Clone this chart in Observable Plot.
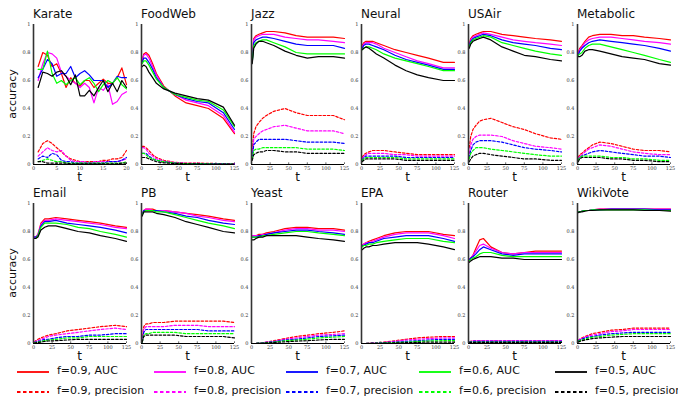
<!DOCTYPE html>
<html><head><meta charset="utf-8">
<script src="https://cdn.jsdelivr.net/npm/d3@7"></script>
<script src="https://cdn.jsdelivr.net/npm/@observablehq/plot@0.6"></script>
<style>
body{margin:0;background:#fff;}
#root{position:relative;width:678px;height:402px;overflow:hidden;font-family:"DejaVu Sans",sans-serif;color:#111;}
.abs{position:absolute;white-space:nowrap;}
.title{font-size:12px;line-height:12px;}
.tlab{font-size:12px;line-height:12px;transform:translateX(-50%);}
.ylab{font-size:11px;line-height:11px;transform:translate(-50%,-50%) rotate(-90deg);}
.leg{font-size:11px;line-height:12px;}
</style></head><body><div id="root"></div>
<script>
const seriesNames = ["f=0.9","f=0.8","f=0.7","f=0.6","f=0.5"];
const seriesColors = ["#ff0000","#ff00ff","#0000ff","#00ff00","#000000"];
const panelNames = ["Karate","FoodWeb","Jazz","Neural","USAir","Metabolic","Email","PB","Yeast","EPA","Router","WikiVote"];
const tKarate = [1,2,3,4,5,6,7,8,9,10,11,12,13,14,15,16,17,18,19,20];
const tGrid = [1,3,6,10,15,20,30,45,60,75,90,110,125];
const ticksKarate = [0,5,10,15,20];
const ticksGrid = [0,25,50,75,100,125];
const yTicks = [0,0.2,0.4,0.6,0.8,1];

const karateAUC = [
 [0.70,0.80,0.78,0.70,0.72,0.65,0.55,0.62,0.58,0.56,0.60,0.60,0.55,0.58,0.61,0.58,0.58,0.62,0.69,0.57],
 [0.60,0.72,0.80,0.79,0.76,0.66,0.63,0.60,0.58,0.55,0.58,0.55,0.44,0.55,0.53,0.57,0.43,0.45,0.50,0.52],
 [0.62,0.68,0.75,0.72,0.63,0.65,0.65,0.70,0.62,0.65,0.67,0.64,0.60,0.60,0.60,0.55,0.58,0.63,0.62,0.62],
 [0.68,0.68,0.81,0.65,0.58,0.60,0.57,0.60,0.62,0.57,0.60,0.62,0.58,0.52,0.57,0.60,0.58,0.62,0.57,0.54],
 [0.55,0.66,0.65,0.63,0.66,0.67,0.63,0.57,0.64,0.49,0.49,0.53,0.49,0.55,0.60,0.52,0.58,0.52,0.60,0.55]];
const karatePrec = [
 [0.09,0.15,0.17,0.15,0.12,0.09,0.06,0.04,0.03,0.02,0.02,0.02,0.02,0.02,0.03,0.03,0.04,0.04,0.05,0.10],
 [0.06,0.09,0.12,0.10,0.09,0.10,0.06,0.03,0.02,0.02,0.02,0.01,0.02,0.02,0.02,0.02,0.02,0.02,0.03,0.04],
 [0.04,0.06,0.05,0.08,0.07,0.03,0.02,0.02,0.01,0.01,0.01,0.01,0.01,0.01,0.01,0.02,0.02,0.02,0.03,0.05],
 [0.02,0.03,0.04,0.03,0.02,0.02,0.01,0.01,0.01,0.01,0.01,0.01,0.01,0.01,0.01,0.01,0.01,0.01,0.01,0.02],
 [0.02,0.02,0.01,0.01,0.01,0.01,0.01,0.005,0.005,0.005,0.005,0.005,0.005,0.005,0.005,0.005,0.005,0.005,0.01,0.01]];

const foodwebAUC = [
 [0.74,0.79,0.80,0.78,0.72,0.65,0.56,0.49,0.44,0.42,0.40,0.33,0.22],
 [0.75,0.78,0.79,0.76,0.70,0.64,0.55,0.50,0.46,0.44,0.42,0.35,0.23],
 [0.73,0.76,0.76,0.73,0.68,0.62,0.55,0.50,0.47,0.45,0.44,0.37,0.25],
 [0.72,0.74,0.74,0.71,0.66,0.61,0.55,0.50,0.48,0.46,0.45,0.39,0.27],
 [0.70,0.71,0.70,0.66,0.62,0.58,0.54,0.51,0.49,0.47,0.46,0.41,0.28]];
const foodwebPrec = [
 [0.13,0.13,0.12,0.10,0.07,0.05,0.03,0.015,0.01,0.01,0.008,0.006,0.005],
 [0.12,0.12,0.11,0.08,0.06,0.04,0.025,0.012,0.008,0.008,0.006,0.005,0.004],
 [0.08,0.08,0.08,0.06,0.04,0.03,0.02,0.01,0.007,0.006,0.005,0.004,0.003],
 [0.08,0.08,0.07,0.05,0.04,0.03,0.02,0.01,0.006,0.005,0.004,0.003,0.003],
 [0.05,0.05,0.05,0.04,0.03,0.02,0.012,0.007,0.005,0.004,0.003,0.003,0.002]];

const jazzAUC = [
 [0.74,0.90,0.92,0.93,0.94,0.95,0.95,0.94,0.92,0.91,0.91,0.91,0.90],
 [0.74,0.89,0.91,0.92,0.93,0.93,0.93,0.91,0.90,0.89,0.89,0.88,0.87],
 [0.73,0.87,0.89,0.90,0.91,0.91,0.90,0.88,0.86,0.85,0.85,0.85,0.83],
 [0.73,0.85,0.87,0.88,0.89,0.89,0.87,0.84,0.80,0.79,0.79,0.79,0.79],
 [0.72,0.83,0.86,0.88,0.88,0.87,0.85,0.81,0.78,0.76,0.77,0.77,0.76]];
const jazzPrec = [
 [0.10,0.22,0.27,0.30,0.33,0.35,0.38,0.40,0.37,0.35,0.35,0.35,0.32],
 [0.07,0.18,0.20,0.22,0.24,0.25,0.27,0.28,0.26,0.24,0.24,0.24,0.22],
 [0.05,0.14,0.16,0.18,0.18,0.18,0.18,0.18,0.17,0.16,0.16,0.16,0.15],
 [0.04,0.10,0.11,0.11,0.12,0.12,0.12,0.12,0.12,0.11,0.11,0.11,0.10],
 [0.03,0.07,0.08,0.09,0.09,0.10,0.10,0.09,0.09,0.08,0.08,0.08,0.08]];

const neuralAUC = [
 [0.85,0.87,0.88,0.88,0.88,0.87,0.85,0.82,0.80,0.78,0.76,0.73,0.73],
 [0.84,0.86,0.87,0.87,0.87,0.86,0.83,0.80,0.77,0.74,0.72,0.69,0.69],
 [0.83,0.85,0.86,0.86,0.85,0.84,0.82,0.78,0.75,0.73,0.71,0.68,0.68],
 [0.82,0.83,0.84,0.84,0.83,0.82,0.79,0.76,0.74,0.72,0.70,0.67,0.67],
 [0.82,0.83,0.84,0.83,0.81,0.79,0.76,0.71,0.67,0.64,0.62,0.60,0.60]];
const neuralPrec = [
 [0.05,0.07,0.08,0.09,0.10,0.10,0.10,0.09,0.08,0.07,0.07,0.07,0.07],
 [0.04,0.06,0.07,0.08,0.08,0.08,0.08,0.07,0.07,0.06,0.06,0.06,0.06],
 [0.03,0.05,0.06,0.06,0.06,0.06,0.06,0.06,0.05,0.05,0.05,0.05,0.05],
 [0.03,0.04,0.05,0.05,0.05,0.05,0.05,0.05,0.04,0.04,0.04,0.04,0.04],
 [0.02,0.03,0.04,0.04,0.04,0.04,0.04,0.04,0.03,0.03,0.03,0.03,0.03]];

const usairAUC = [
 [0.86,0.90,0.92,0.93,0.94,0.95,0.95,0.93,0.92,0.91,0.90,0.89,0.88],
 [0.85,0.89,0.91,0.92,0.93,0.94,0.93,0.91,0.89,0.88,0.87,0.86,0.85],
 [0.85,0.88,0.90,0.91,0.92,0.93,0.92,0.89,0.87,0.86,0.85,0.83,0.82],
 [0.84,0.87,0.89,0.90,0.91,0.92,0.91,0.87,0.85,0.83,0.81,0.79,0.78],
 [0.83,0.86,0.88,0.89,0.90,0.91,0.89,0.84,0.81,0.78,0.77,0.75,0.74]];
const usairPrec = [
 [0.12,0.20,0.25,0.28,0.31,0.32,0.33,0.30,0.27,0.25,0.22,0.19,0.18],
 [0.08,0.14,0.18,0.20,0.21,0.21,0.21,0.20,0.17,0.15,0.13,0.12,0.11],
 [0.05,0.10,0.14,0.16,0.17,0.17,0.17,0.16,0.14,0.12,0.11,0.10,0.09],
 [0.04,0.08,0.10,0.12,0.12,0.12,0.11,0.10,0.09,0.08,0.07,0.06,0.06],
 [0.02,0.04,0.06,0.07,0.08,0.08,0.07,0.06,0.05,0.04,0.04,0.03,0.03]];

const metabolicAUC = [
 [0.80,0.83,0.85,0.88,0.91,0.92,0.93,0.93,0.92,0.92,0.91,0.90,0.89],
 [0.79,0.82,0.84,0.87,0.89,0.90,0.91,0.91,0.90,0.89,0.88,0.87,0.86],
 [0.78,0.81,0.83,0.85,0.87,0.88,0.89,0.88,0.87,0.86,0.85,0.83,0.81],
 [0.78,0.79,0.80,0.83,0.85,0.86,0.86,0.84,0.82,0.80,0.78,0.75,0.73],
 [0.77,0.77,0.78,0.81,0.82,0.82,0.81,0.79,0.77,0.76,0.75,0.72,0.71]];
const metabolicPrec = [
 [0.05,0.07,0.08,0.10,0.12,0.14,0.16,0.15,0.13,0.11,0.10,0.10,0.09],
 [0.04,0.06,0.07,0.09,0.11,0.12,0.14,0.13,0.11,0.09,0.08,0.07,0.07],
 [0.03,0.05,0.06,0.07,0.08,0.09,0.10,0.09,0.08,0.07,0.06,0.06,0.05],
 [0.03,0.05,0.06,0.06,0.06,0.06,0.06,0.05,0.05,0.04,0.04,0.03,0.03],
 [0.02,0.04,0.05,0.05,0.05,0.05,0.05,0.04,0.04,0.03,0.03,0.02,0.02]];

const emailAUC = [
 [0.76,0.76,0.78,0.86,0.89,0.89,0.90,0.89,0.88,0.87,0.86,0.84,0.83],
 [0.76,0.76,0.78,0.85,0.88,0.88,0.89,0.88,0.87,0.86,0.85,0.83,0.82],
 [0.76,0.76,0.77,0.84,0.87,0.87,0.88,0.86,0.85,0.84,0.83,0.81,0.79],
 [0.75,0.75,0.77,0.83,0.86,0.86,0.86,0.85,0.83,0.82,0.80,0.78,0.76],
 [0.75,0.75,0.76,0.81,0.83,0.84,0.84,0.82,0.80,0.79,0.77,0.75,0.73]];
const emailPrec = [
 [0.01,0.02,0.03,0.04,0.05,0.06,0.07,0.09,0.10,0.11,0.12,0.13,0.12],
 [0.01,0.015,0.02,0.03,0.04,0.05,0.06,0.07,0.08,0.09,0.10,0.11,0.10],
 [0.005,0.01,0.015,0.02,0.03,0.03,0.04,0.05,0.05,0.06,0.06,0.07,0.07],
 [0.003,0.008,0.01,0.015,0.02,0.025,0.03,0.04,0.04,0.05,0.05,0.05,0.05],
 [0.002,0.005,0.008,0.01,0.015,0.018,0.02,0.025,0.03,0.03,0.03,0.03,0.03]];

const pbAUC = [
 [0.92,0.95,0.96,0.96,0.96,0.95,0.95,0.94,0.93,0.92,0.91,0.89,0.88],
 [0.92,0.95,0.96,0.96,0.95,0.95,0.95,0.94,0.93,0.91,0.90,0.88,0.87],
 [0.92,0.95,0.95,0.95,0.95,0.95,0.94,0.93,0.91,0.90,0.88,0.86,0.85],
 [0.92,0.94,0.95,0.95,0.95,0.94,0.94,0.92,0.90,0.88,0.86,0.84,0.82],
 [0.91,0.94,0.94,0.94,0.94,0.93,0.92,0.90,0.87,0.85,0.83,0.80,0.79]];
const pbPrec = [
 [0.02,0.12,0.14,0.14,0.15,0.15,0.15,0.16,0.16,0.16,0.16,0.16,0.15],
 [0.02,0.10,0.12,0.12,0.12,0.12,0.12,0.13,0.13,0.13,0.12,0.12,0.12],
 [0.01,0.08,0.10,0.10,0.10,0.10,0.10,0.10,0.10,0.10,0.09,0.09,0.09],
 [0.01,0.06,0.07,0.07,0.08,0.08,0.08,0.08,0.07,0.07,0.07,0.07,0.07],
 [0.01,0.05,0.06,0.06,0.06,0.06,0.06,0.06,0.05,0.05,0.05,0.05,0.04]];

const yeastAUC = [
 [0.77,0.77,0.77,0.78,0.78,0.79,0.80,0.82,0.83,0.83,0.82,0.82,0.81],
 [0.77,0.77,0.77,0.77,0.78,0.78,0.79,0.81,0.82,0.82,0.81,0.81,0.80],
 [0.76,0.76,0.76,0.77,0.77,0.78,0.79,0.80,0.81,0.81,0.80,0.79,0.78],
 [0.76,0.76,0.76,0.76,0.77,0.77,0.78,0.79,0.80,0.80,0.79,0.78,0.77],
 [0.74,0.74,0.75,0.76,0.76,0.77,0.77,0.77,0.77,0.76,0.75,0.74,0.73]];
const yeastPrec = [
 [0,0,0,0.003,0.006,0.01,0.02,0.035,0.05,0.06,0.07,0.08,0.09],
 [0,0,0,0.003,0.005,0.01,0.015,0.03,0.04,0.05,0.06,0.065,0.07],
 [0,0,0,0.002,0.004,0.008,0.012,0.025,0.03,0.04,0.05,0.055,0.06],
 [0,0,0,0.002,0.003,0.006,0.01,0.02,0.025,0.03,0.04,0.045,0.05],
 [0,0,0,0.001,0.002,0.004,0.007,0.012,0.017,0.02,0.025,0.03,0.03]];

const epaAUC = [
 [0.70,0.71,0.72,0.73,0.74,0.75,0.77,0.79,0.80,0.80,0.80,0.78,0.77],
 [0.70,0.71,0.72,0.72,0.73,0.74,0.76,0.78,0.79,0.79,0.79,0.77,0.75],
 [0.70,0.70,0.71,0.72,0.72,0.73,0.75,0.76,0.77,0.77,0.77,0.75,0.73],
 [0.69,0.70,0.70,0.71,0.71,0.72,0.73,0.74,0.75,0.75,0.75,0.73,0.72],
 [0.67,0.68,0.69,0.69,0.70,0.70,0.71,0.72,0.72,0.72,0.71,0.69,0.67]];
const epaPrec = [
 [0,0,0,0.002,0.004,0.005,0.01,0.02,0.03,0.04,0.045,0.05,0.05],
 [0,0,0,0.001,0.003,0.004,0.008,0.015,0.025,0.03,0.035,0.04,0.04],
 [0,0,0,0.001,0.002,0.003,0.006,0.01,0.015,0.02,0.025,0.03,0.03],
 [0,0,0,0.001,0.001,0.002,0.004,0.007,0.01,0.015,0.018,0.02,0.02],
 [0,0,0,0,0.001,0.001,0.002,0.004,0.006,0.008,0.01,0.01,0.01]];

const routerAUC = [
 [0.60,0.61,0.63,0.68,0.74,0.75,0.69,0.65,0.64,0.65,0.66,0.66,0.66],
 [0.60,0.61,0.63,0.66,0.70,0.71,0.68,0.65,0.64,0.65,0.65,0.65,0.65],
 [0.60,0.61,0.62,0.64,0.67,0.69,0.67,0.64,0.63,0.64,0.64,0.64,0.64],
 [0.59,0.60,0.61,0.62,0.64,0.65,0.65,0.63,0.62,0.62,0.62,0.62,0.62],
 [0.58,0.59,0.60,0.61,0.62,0.62,0.62,0.61,0.61,0.60,0.60,0.60,0.60]];
const routerPrec = [
 [0.01,0.015,0.02,0.02,0.02,0.02,0.02,0.02,0.02,0.02,0.02,0.02,0.02],
 [0.01,0.015,0.02,0.02,0.02,0.02,0.02,0.02,0.02,0.02,0.02,0.02,0.02],
 [0.01,0.012,0.015,0.015,0.015,0.015,0.015,0.015,0.015,0.015,0.015,0.015,0.015],
 [0.008,0.01,0.01,0.01,0.01,0.01,0.01,0.01,0.01,0.01,0.01,0.01,0.01],
 [0.005,0.008,0.008,0.008,0.008,0.008,0.008,0.008,0.008,0.008,0.008,0.008,0.008]];

const wikivoteAUC = [
 [0.94,0.94,0.945,0.95,0.95,0.955,0.96,0.96,0.96,0.96,0.96,0.96,0.96],
 [0.94,0.94,0.945,0.95,0.95,0.955,0.96,0.96,0.96,0.96,0.96,0.96,0.96],
 [0.94,0.94,0.945,0.95,0.95,0.955,0.955,0.96,0.96,0.96,0.96,0.955,0.955],
 [0.94,0.94,0.945,0.95,0.95,0.955,0.955,0.955,0.955,0.955,0.955,0.95,0.95],
 [0.935,0.94,0.94,0.945,0.95,0.95,0.955,0.955,0.955,0.955,0.95,0.95,0.945]];
const wikivotePrec = [
 [0.02,0.03,0.04,0.05,0.06,0.07,0.08,0.095,0.10,0.11,0.11,0.11,0.11],
 [0.02,0.03,0.035,0.045,0.055,0.06,0.07,0.085,0.09,0.10,0.10,0.10,0.10],
 [0.02,0.025,0.03,0.04,0.045,0.05,0.06,0.07,0.075,0.08,0.08,0.08,0.08],
 [0.015,0.02,0.025,0.03,0.04,0.045,0.05,0.06,0.065,0.07,0.07,0.07,0.07],
 [0.01,0.015,0.02,0.025,0.03,0.035,0.04,0.045,0.05,0.05,0.05,0.05,0.05]];

const aucData = [karateAUC,foodwebAUC,jazzAUC,neuralAUC,usairAUC,metabolicAUC,emailAUC,pbAUC,yeastAUC,epaAUC,routerAUC,wikivoteAUC];
const precData = [karatePrec,foodwebPrec,jazzPrec,neuralPrec,usairPrec,metabolicPrec,emailPrec,pbPrec,yeastPrec,epaPrec,routerPrec,wikivotePrec];

// layout
const colLeft = [33,141,251,361,468,577];
const rowTop = [24,203];
const PW = 93, PH = 140, ML = 18, MR = 3, MT = 3, MB = 12;

const root = document.getElementById("root");
function addDiv(cls, text, left, top) {
  const d = document.createElement("div");
  d.className = "abs " + cls;
  d.textContent = text;
  d.style.left = left + "px";
  d.style.top = top + "px";
  root.appendChild(d);
  return d;
}

panelNames.forEach((name, i) => {
  const r = Math.floor(i / 6), c = i % 6;
  const isK = i === 0;
  const ts = isK ? tKarate : tGrid;
  const xt = isK ? ticksKarate : ticksGrid;
  const xMax = isK ? 20 : 125;
  const marks = [];
  [["auc", aucData[i]], ["prec", precData[i]]].forEach(([kind, arr]) => {
    arr.forEach((vals, k) => {
      const rows = ts.map((t, j) => ({t, v: vals[j]}));
      marks.push(Plot.line(rows, {
        x: "t", y: "v", stroke: seriesColors[k], strokeWidth: 1.2,
        strokeDasharray: kind === "prec" ? "2.5,1.8" : null
      }));
    });
  });
  const chart = Plot.plot({
    width: ML + PW + MR, height: MT + PH + MB,
    marginLeft: ML, marginRight: MR, marginTop: MT, marginBottom: MB,
    x: {domain: [0, xMax]},
    y: {domain: [0, 1]},
    style: {fontSize: "5px", fontFamily: "'DejaVu Serif', serif", color: "#333", background: "transparent", overflow: "visible"},
    marks: [
      Plot.axisY({ticks: yTicks, tickSize: 0, tickPadding: 3, tickFormat: d => d === 0 ? "0" : d === 1 ? "1" : d.toFixed(1), label: null}),
      Plot.axisX({ticks: xt, tickSize: 0, tickPadding: 1.5, tickFormat: d => String(d), label: null}),
      Plot.ruleX(xt, {x: d => d, y1: 0, y2: 0.012, stroke: "#000", strokeWidth: 0.6}),
      ...marks,
      Plot.ruleX([0], {stroke: "#333", strokeWidth: 1.6}),
      Plot.ruleY([0], {stroke: "#000", strokeWidth: 1})
    ]
  });
  chart.style.position = "absolute";
  chart.style.left = (colLeft[c] - ML) + "px";
  chart.style.top = (rowTop[r] - MT) + "px";
  root.appendChild(chart);
  addDiv("title", name, colLeft[c], rowTop[r] - 16);
  addDiv("tlab", "t", colLeft[c] + PW / 2, rowTop[r] + PH + 7);
});

addDiv("ylab", "accuracy", 12, rowTop[0] + 70);
addDiv("ylab", "accuracy", 12, rowTop[1] + 70);

// legend
const legCols = [17,154,286,419,555];
const legRows = [372,392];
const legKinds = [", AUC", ", precision"];
legKinds.forEach((kind, r) => {
  seriesNames.forEach((nm, k) => {
    const x = legCols[k], y = legRows[r];
    const svg = d3.create("svg").attr("width", 34).attr("height", 6)
      .style("position", "absolute").style("left", x + "px").style("top", (y - 3) + "px");
    svg.append("line").attr("x1", 0).attr("x2", 32).attr("y1", 3).attr("y2", 3)
      .attr("stroke", seriesColors[k]).attr("stroke-width", 1.8)
      .attr("stroke-dasharray", r === 1 ? "3.5,2.5" : null);
    root.appendChild(svg.node());
    addDiv("leg", nm + kind, x + 40, y - 7);
  });
});
</script></body></html>
